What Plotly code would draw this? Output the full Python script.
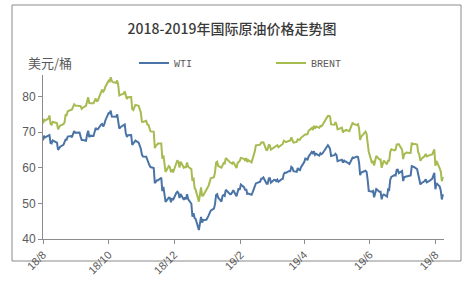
import pandas as pd
import plotly.graph_objects as go

# Trading calendar (US trading days, Aug 2018 - Aug 2019)
START_DATE = "2018-08-01"
END_DATE = "2019-08-08"
HOLIDAYS = ["2018-09-03", "2018-11-22", "2018-12-25", "2019-01-01", "2019-01-21",
            "2019-02-18", "2019-04-19", "2019-05-27", "2019-07-04"]

WTI = [
    # 2018-08
    67.66, 68.96, 68.49, 69.01, 69.17, 66.94, 66.81, 67.63, 67.20, 67.04, 65.01, 65.46,
    65.91, 66.43, 67.35, 67.86, 67.83, 68.72, 68.87, 68.53, 69.51, 70.25, 69.80,
    # 2018-09
    69.87, 68.72, 67.77, 67.75, 67.54, 69.25, 70.37, 68.59, 68.99, 68.91, 69.85, 71.12,
    70.80, 70.78, 72.08, 72.28, 71.57, 72.12, 73.25,
    # 2018-10
    75.30, 75.23, 76.00, 74.33, 74.34, 74.29, 74.96, 73.17, 70.97, 71.34, 71.78, 72.14,
    69.75, 68.65, 69.12, 69.17, 66.43, 66.82, 67.33, 67.59, 67.04, 66.18, 65.31,
    # 2018-11
    63.69, 63.14, 63.10, 62.21, 61.67, 60.67, 60.19, 59.93, 55.69, 56.25, 56.46, 56.46,
    57.20, 53.43, 54.63, 50.42, 51.63, 51.56, 50.29, 51.45, 50.93,
    # 2018-12
    52.95, 53.25, 52.89, 51.49, 52.61, 51.00, 51.65, 51.15, 52.58, 51.20, 49.88, 46.24,
    47.20, 45.88, 45.59, 42.53, 46.22, 44.61, 45.33, 45.41,
    # 2019-01
    46.54, 47.09, 47.96, 48.52, 49.78, 52.36, 52.59, 51.59, 50.51, 52.11, 52.31, 52.07,
    53.80, 52.57, 52.62, 53.13, 53.69, 51.99, 53.31, 54.23, 53.79,
    # 2019-02
    55.26, 54.56, 53.66, 54.01, 52.64, 52.72, 52.41, 53.10, 53.90, 54.41, 55.59, 56.09,
    56.92, 56.96, 57.26, 55.48, 55.50, 56.94, 57.22,
    # 2019-03
    55.80, 56.59, 56.56, 56.22, 56.66, 56.07, 56.79, 56.87, 58.26, 58.61, 58.52, 59.09,
    59.03, 60.23, 59.98, 59.04, 58.82, 59.94, 59.41, 59.30, 60.14,
    # 2019-04
    61.59, 62.58, 62.46, 62.10, 63.08, 64.40, 64.05, 64.61, 63.58, 63.89, 63.40, 64.05,
    63.76, 64.00, 65.70, 66.30, 65.89, 65.21, 63.30, 63.50, 63.91,
    # 2019-05
    63.60, 61.81, 61.94, 62.25, 61.40, 62.12, 61.70, 61.66, 61.04, 61.78, 62.02, 62.87,
    62.76, 63.10, 62.99, 61.42, 57.91, 58.63, 59.14, 58.81, 56.59, 53.50,
    # 2019-06
    53.25, 53.48, 51.68, 52.59, 53.99, 53.26, 53.27, 51.14, 52.28, 52.51, 51.93, 53.90,
    53.76, 56.65, 57.43, 57.90, 57.83, 59.38, 59.43, 58.47,
    # 2019-07
    59.09, 56.25, 57.34, 57.51, 57.66, 57.83, 60.43, 60.20, 60.21, 59.58, 57.62, 56.78,
    55.30, 55.63, 56.22, 56.77, 55.88, 56.02, 56.20, 56.87, 58.05, 58.58,
    # 2019-08
    53.95, 55.66, 54.69, 53.63, 51.09, 52.54,
]

BRENT = [
    # 2018-08
    72.39, 73.45, 73.21, 73.75, 74.65, 72.28, 72.07, 72.81, 72.61, 72.46, 70.76, 71.43,
    71.83, 72.21, 72.63, 74.78, 74.73, 75.82, 76.21, 76.31, 77.14, 77.77, 77.42,
    # 2018-09
    77.17, 77.27, 76.50, 76.83, 77.37, 79.06, 79.74, 78.18, 78.09, 78.05, 79.03, 79.40,
    78.70, 78.80, 81.20, 81.87, 81.34, 81.72, 82.72,
    # 2018-10
    84.40, 84.20, 85.40, 84.30, 84.00, 83.80, 84.50, 83.09, 80.26, 80.43, 80.78, 81.41,
    80.05, 79.29, 79.78, 79.83, 76.44, 76.17, 76.89, 77.62, 77.34, 75.91, 75.47,
    # 2018-11
    72.89, 72.83, 73.17, 72.13, 72.07, 70.65, 70.18, 70.12, 65.47, 66.12, 66.62, 66.76,
    66.79, 62.53, 63.48, 58.80, 60.48, 60.21, 58.76, 59.51, 58.71,
    # 2018-12
    61.69, 62.08, 61.56, 60.06, 61.67, 59.97, 60.20, 60.15, 61.45, 60.28, 59.61, 56.26,
    57.24, 54.35, 53.82, 50.47, 54.47, 52.16, 52.20, 53.80,
    # 2019-01
    54.91, 55.95, 57.06, 57.33, 58.72, 61.44, 61.68, 60.48, 59.99, 60.64, 61.32, 61.18,
    62.70, 61.50, 61.14, 61.09, 61.64, 59.93, 61.32, 61.65, 61.89,
    # 2019-02
    62.75, 62.51, 61.98, 62.69, 61.63, 62.10, 61.51, 62.42, 63.61, 64.57, 66.25, 66.45,
    67.08, 67.07, 67.12, 64.76, 65.21, 66.39, 66.31,
    # 2019-03
    65.07, 65.67, 65.86, 65.99, 66.30, 65.74, 66.58, 66.67, 67.55, 67.23, 67.16, 67.54,
    67.61, 68.50, 67.86, 67.03, 67.21, 67.97, 67.83, 67.82, 68.39,
    # 2019-04
    69.01, 69.37, 69.31, 69.40, 70.34, 71.10, 70.61, 71.73, 71.02, 71.55, 71.18, 71.72,
    71.62, 71.97, 74.04, 74.51, 74.57, 74.35, 72.15, 72.04, 72.80,
    # 2019-05
    72.18, 70.75, 70.85, 71.24, 69.88, 70.37, 70.39, 70.62, 70.23, 71.24, 71.77, 72.62,
    72.21, 71.97, 72.18, 70.99, 67.76, 68.69, 70.11, 69.45, 66.87, 64.49,
    # 2019-06
    61.28, 61.97, 60.63, 61.67, 63.29, 62.29, 62.29, 59.97, 61.31, 62.01, 60.94, 62.14,
    61.82, 64.45, 65.20, 64.86, 65.05, 66.49, 66.55, 66.55,
    # 2019-07
    65.06, 62.40, 63.82, 64.23, 64.11, 64.16, 67.01, 66.52, 66.72, 66.48, 64.35, 63.66,
    61.93, 62.47, 63.26, 63.83, 63.18, 63.39, 63.46, 63.71, 64.72, 65.17,
    # 2019-08
    60.50, 61.89, 59.81, 58.94, 56.23, 57.38,
]

TICK_VALS = ["2018-08-01", "2018-10-01", "2018-12-01", "2019-02-01",
             "2019-04-01", "2019-06-01", "2019-08-01"]
TICK_TEXT = ["18/8", "18/10", "18/12", "19/2", "19/4", "19/6", "19/8"]
Y_TICKS = [40, 50, 60, 70, 80]

TITLE = "2018-2019年国际原油价格走势图"
Y_UNIT = "美元/桶"

dates = pd.bdate_range(START_DATE, END_DATE)
dates = dates[~dates.isin(pd.to_datetime(HOLIDAYS))]
n = min(len(dates), len(WTI), len(BRENT))
dates = dates[:n]

W, H = 476, 290
L, R, T, B = 43, 32, 75, 51
pw, ph = W - L - R, H - T - B

def px_x(p):
    return (p - L) / pw

def px_y(p):
    return (H - B - p) / ph

AX = "#8c8c8c"
TXT = "#595959"

fig = go.Figure()
fig.add_trace(go.Scatter(x=dates, y=WTI[:n], mode="lines", name="WTI",
                         line=dict(color="#4a73a6", width=2)))
fig.add_trace(go.Scatter(x=dates, y=BRENT[:n], mode="lines", name="BRENT",
                         line=dict(color="#a6bb50", width=2)))

fig.update_layout(
    width=W, height=H,
    margin=dict(l=L, r=R, t=T, b=B),
    paper_bgcolor="white", plot_bgcolor="white",
    font=dict(family="Noto Sans CJK SC, Noto Sans, sans-serif", color=TXT, size=11),
    title=dict(text=TITLE, x=232 / W, y=1 - 29 / H, xref="container", yref="container",
               xanchor="center", yanchor="middle",
               font=dict(size=14, color="#3a3a3a", family="Noto Sans CJK SC", weight=500)),
    showlegend=True,
    legend=dict(orientation="h", x=px_x(134), y=px_y(63), xanchor="left", yanchor="middle",
                font=dict(size=10, color=TXT, family="Liberation Mono"),
                entrywidth=92, bgcolor="rgba(0,0,0,0)", itemwidth=30),
    xaxis=dict(type="date", range=["2018-08-01", "2019-08-09"],
               tickvals=TICK_VALS, ticktext=TICK_TEXT, tickangle=-45,
               showgrid=False, zeroline=False, showline=True, linecolor=AX, linewidth=1,
               ticks="outside", ticklen=4, tickcolor=AX,
               tickfont=dict(size=11, color=TXT, family="Liberation Sans")),
    yaxis=dict(range=[40, 86], tickvals=Y_TICKS, showgrid=False, zeroline=False,
               showline=True, linecolor=AX, linewidth=1,
               ticks="outside", ticklen=4, tickcolor=AX,
               tickfont=dict(size=12, color=TXT, family="Liberation Sans")),
    shapes=[dict(type="rect", xref="paper", yref="paper",
                 x0=px_x(12), x1=px_x(461), y0=px_y(261), y1=px_y(5),
                 line=dict(color="#8a8a8a", width=1), fillcolor="rgba(0,0,0,0)",
                 layer="below")],
    annotations=[dict(text=Y_UNIT, xref="paper", yref="paper", x=px_x(26), y=px_y(63),
                      xanchor="left", yanchor="middle", showarrow=False,
                      font=dict(size=13, color=TXT, family="Noto Sans CJK SC"))],
)

fig.write_html("out.html")
